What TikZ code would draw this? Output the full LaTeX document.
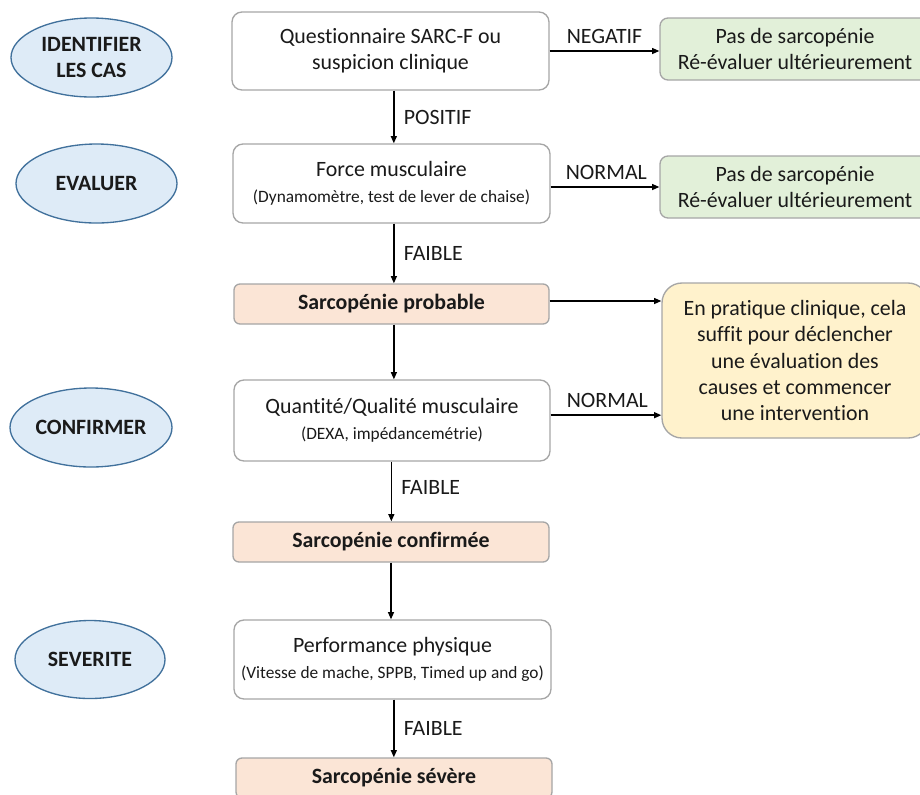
\documentclass[tikz,border=0pt]{standalone}
\usepackage{fontspec}
\setmainfont{Carlito}[Ligatures=NoCommon]
\usetikzlibrary{arrows.meta,shapes.geometric,calc}
\definecolor{txt}{HTML}{1A1A1A}
\definecolor{bgray}{HTML}{A6A6A6}
\definecolor{eblue}{HTML}{41719C}
\definecolor{efill}{HTML}{DEEBF7}
\definecolor{peach}{HTML}{FBE5D6}
\definecolor{gfill}{HTML}{E2F0D9}
\definecolor{yfill}{HTML}{FFF2CC}
\def\px{0.75pt}
\newcommand\fmain{\fontsize{16.4}{19.6}\selectfont}
\newcommand\fsmall{\fontsize{13}{16}\selectfont}
\tikzset{
  basebox/.style={draw=bgray, line width=1pt, align=center, inner sep=0pt, font=\fmain, text=txt},
  wbox/.style={basebox, fill=white, rounded corners=10*\px},
  pbox/.style={basebox, fill=peach, rounded corners=6*\px},
  gbox/.style={basebox, fill=gfill, rounded corners=8*\px},
  ybox/.style={basebox, fill=yfill, rounded corners=20*\px},
  phase/.style={ellipse, draw=eblue, line width=1pt, fill=efill, inner sep=0pt, align=center, font=\fmain\bfseries, text=txt},
  arr/.style={-{Triangle[length=5.5pt,width=4.5pt]}, line width=1.1pt, black},
  vlbl/.style={anchor=west, inner sep=0pt, xshift=7pt, font=\fmain, text=txt},
  hlbl/.style={anchor=south, inner sep=0pt, yshift=5pt, font=\fmain, text=txt},
}
\begin{document}
\begin{tikzpicture}[x=0.75pt,y=-0.75pt]
\useasboundingbox (0,0) rectangle (920,794);
\fill[white] (0,0) rectangle (920,794);
\clip (0,0) rectangle (920,794);

% phase ellipses
\node[phase, minimum width=161*\px, minimum height=79*\px] (e1) at (91.5,57.5) {IDENTIFIER\\LES CAS};
\node[phase, minimum width=161*\px, minimum height=79*\px] (e2) at (96.5,183.5) {EVALUER};
\node[phase, minimum width=162*\px, minimum height=79*\px] (e3) at (91,427.5) {CONFIRMER};
\node[phase, minimum width=150*\px, minimum height=78*\px] (e4) at (90,659.5) {SEVERITE};

% main column
\node[wbox, minimum width=317*\px, minimum height=78*\px] (q) at (390.5,51) {Questionnaire SARC-F ou\\suspicion clinique};
\node[wbox, minimum width=317*\px, minimum height=79*\px] (f) at (391.5,183.5) {Force musculaire\\{\fsmall (Dynamomètre, test de lever de chaise)}};
\node[pbox, minimum width=315*\px, minimum height=40*\px] (p) at (391.5,304) {\bfseries Sarcopénie probable};
\node[wbox, minimum width=316*\px, minimum height=81*\px] (qq) at (392,420.5) {Quantité/Qualité musculaire\\{\fsmall (DEXA, impédancemétrie)}};
\node[pbox, minimum width=316*\px, minimum height=40*\px] (c) at (391,542) {\bfseries Sarcopénie confirmée};
\node[wbox, minimum width=317*\px, minimum height=79*\px] (pp) at (392.5,659.5) {Performance physique\\{\fsmall (Vitesse de mache, SPPB, Timed up and go)}};
\node[pbox, minimum width=316*\px, minimum height=40*\px] (s) at (394,778) {\bfseries Sarcopénie sévère};

% right column
\node[gbox, minimum width=270*\px, minimum height=62*\px] (g1) at (795,49) {Pas de sarcopénie\\Ré-évaluer ultérieurement};
\node[gbox, minimum width=270*\px, minimum height=62*\px] (g2) at (795,187) {Pas de sarcopénie\\Ré-évaluer ultérieurement};
\node[ybox, minimum width=266*\px, minimum height=155*\px] (y) at (795,360.5) {En pratique clinique, cela\\suffit pour déclencher\\une évaluation des\\causes et commencer\\une intervention};

% vertical arrows
\draw[arr] ([xshift=2.5pt]q.south) -- ([xshift=2.5pt]q.south |- f.north) node[vlbl, midway] {POSITIF};
\draw[arr] ([xshift=1.8pt]f.south) -- ([xshift=1.8pt]f.south |- p.north) node[vlbl, midway] {FAIBLE};
\draw[arr] ([xshift=1.8pt]p.south) -- ([xshift=1.8pt]p.south |- qq.north);
\draw[arr] ([xshift=-0.5pt]qq.south) -- ([xshift=-0.5pt]qq.south |- c.north) node[vlbl, pos=0.43] {FAIBLE};
\draw[arr] (c.south) -- (c.south |- pp.north);
\draw[arr] ([xshift=1pt]pp.south) -- ([xshift=1pt]pp.south |- s.north) node[vlbl, midway] {FAIBLE};

% horizontal arrows
\draw[arr] (q.east) -- (q.east -| g1.west) node[hlbl, midway] {NEGATIF};
\draw[arr] (f.east |- g2.west) -- (g2.west) node[hlbl, midway, xshift=1pt] {NORMAL};
\draw[arr] ([yshift=2.25pt]p.east) -- ([yshift=2.25pt]p.east -| y.west);
\draw[arr] ([yshift=4pt]qq.east) -- ([yshift=4pt]qq.east -| y.west) node[hlbl, midway, xshift=1pt] {NORMAL};
\end{tikzpicture}
\end{document}
